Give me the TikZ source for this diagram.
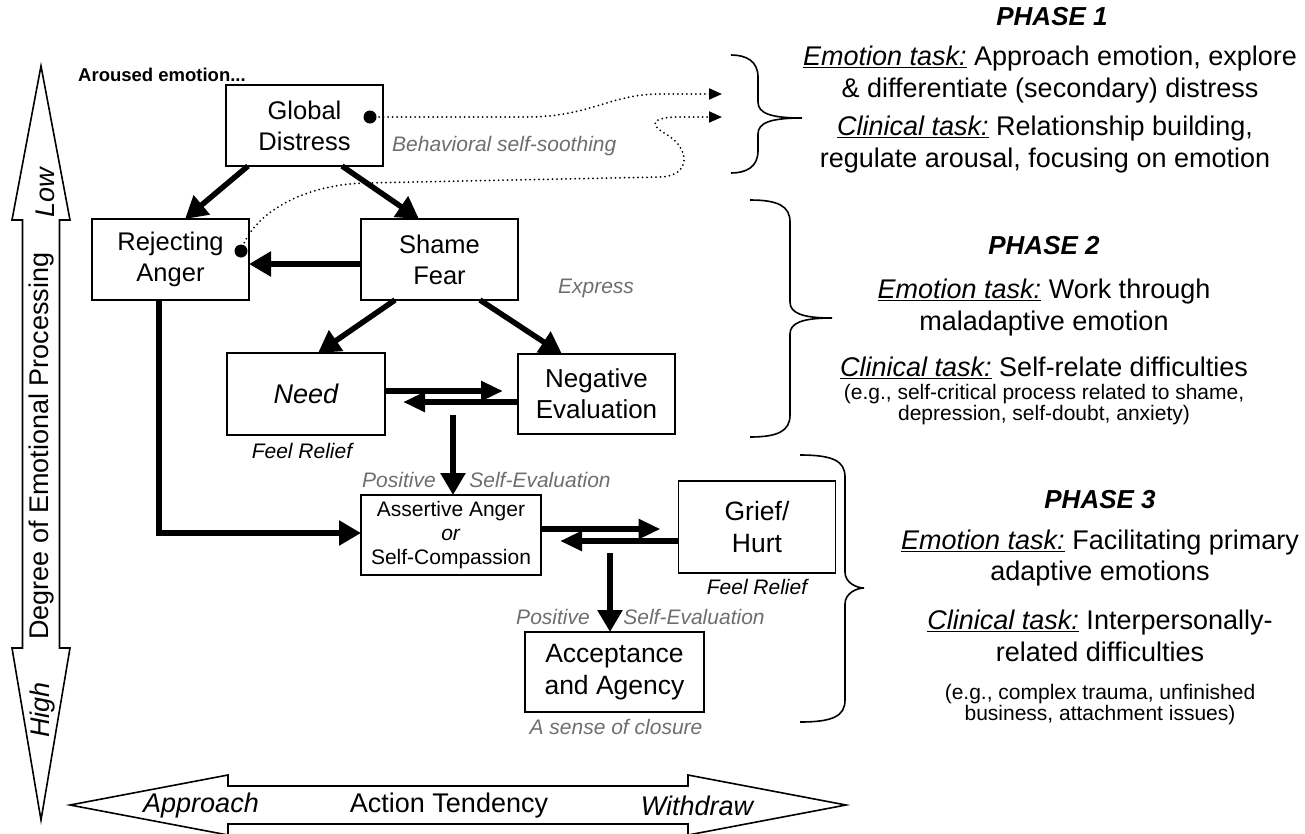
\documentclass[tikz,border=0pt]{standalone}
\usepackage{fontspec}
\setmainfont{Liberation Sans}
\usepackage{tikz}
\usetikzlibrary{arrows.meta, positioning, calc}
\definecolor{hintgray}{HTML}{6e6e6e}
\newcommand{\tasklabel}[1]{\underline{\textit{#1 task:}}}

\begin{document}
\begin{tikzpicture}[
				x=1pt, y=-1pt,
				box/.style={
						draw,
						line width=1.6pt,
						inner sep=0pt,
						outer sep=0pt,
						align=center,
						minimum width=157pt,
						minimum height=81pt,
						font=\fontsize{25.5}{31}\selectfont,
					},
				bigarrow/.style={
						line width=5.5pt, -{Triangle[length=22pt, width=24pt]},
					},
				pairarrow/.style={
						line width=5.5pt, -{Triangle[length=22pt, width=19pt]},
					},
				dotarrow/.style={
						line width=2pt, line cap=round, dash pattern=on 0pt off 4.5pt,
						-{Triangle[length=13pt, width=11pt]},
					},
				axisarrow/.style={
						draw, fill=white, line width=1.6pt, line join=miter,
					},
				axislabel/.style={inner sep=0pt, font=\fontsize{27}{30}\selectfont},
				hint/.style={inner sep=0pt, text=hintgray, font=\fontsize{21}{25}\selectfont\itshape},
				relief/.style={inner sep=0pt, font=\fontsize{21}{25}\selectfont\itshape},
				bracket/.style={line width=1.6pt},
				phase/.style={inner sep=0pt, font=\fontsize{26}{30}\selectfont\bfseries\itshape},
				task/.style={inner sep=0pt, align=center, font=\fontsize{27}{31.5}\selectfont},
				example/.style={inner sep=0pt, align=center, font=\fontsize{21}{19.5}\selectfont},
			]
			\useasboundingbox (0,0) rectangle (1305,833);

			% Achse links
			\draw[axisarrow] (41,66) -- (70,220) -- (59.5,220) -- (59.5,648) -- (70,648) -- (41,820)
			-- (12,648) -- (22.5,648) -- (22.5,220) -- (12,220) -- cycle;
			\node[axislabel, rotate=90] (degree) at (42,446) {Degree of Emotional Processing};
			\node[axislabel, rotate=90, font=\fontsize{27}{30}\selectfont\itshape] (low) at (45,193) {Low};
			\node[axislabel, rotate=90, font=\fontsize{27}{30}\selectfont\itshape] (high) at (43,710) {High};

			% Achse unten
			\draw[axisarrow] (70,805) -- (228,775) -- (228,786) -- (688,786) -- (688,775) -- (846,805)
			-- (688,835) -- (688,824) -- (228,824) -- (228,835) -- cycle;
			\node[axislabel, font=\fontsize{27}{30}\selectfont\itshape] (approach) at (201,806) {Approach};
			\node[axislabel] (tendency) at (449,806) {Action Tendency};
			\node[axislabel, font=\fontsize{27}{30}\selectfont\itshape] (withdraw) at (697,806) {Withdraw};

			\node[font=\fontsize{18.5}{22}\selectfont\bfseries] (aroused) at (162,75) {Aroused emotion...};

			% Emotionen
			\node[box] (gd) at (304.5,125.5) {Global\\Distress};
			\node[box] (ra) at (170.5,259.5) {Rejecting\\Anger};
			\node[box] (sf) at (439.5,259.5) {Shame\\Fear};
			\node[box, minimum width=158pt, minimum height=82pt, font=\fontsize{27}{31}\selectfont\itshape] (nd) at (306,394) {Need};
			\node[box, minimum height=80pt, font=\fontsize{26}{31}\selectfont] (ne) at (596.5,394) {Negative\\Evaluation};
			\node[box, minimum width=180pt, minimum height=80pt, font=\fontsize{21}{24}\selectfont] (aa) at (451,535) {Assertive Anger\\\textit{or}\\Self-Compassion};
			\node[box, minimum width=157pt, minimum height=92pt, font=\fontsize{26.5}{32}\selectfont] (gh) at (757,527) {Grief/\\Hurt};
			\node[box, minimum width=179pt, minimum height=80pt, font=\fontsize{26.5}{32}\selectfont] (ac) at (614.5,672) {Acceptance\\and Agency};

			% Pfeile
			\draw[bigarrow] ($(gd.south west)+(22,0)$) -- ($(ra.north west)+(93,0)$);
			\draw[bigarrow] ($(gd.south west)+(116,0)$) -- ($(sf.north west)+(58,0)$);
			\draw[bigarrow] ($(sf.west)+(0,4.5)$) -- ($(ra.east)+(0,4.5)$);
			\draw[bigarrow] ($(sf.south west)+(34,0)$) -- ($(nd.north west)+(91,0)$);
			\draw[bigarrow] ($(sf.south west)+(119,0)$) -- ($(ne.north west)+(44,0)$);
			\draw[pairarrow] ($(nd.east)+(0,-3)$) -- ($(ne.west)+(-15,-3)$);
			\draw[pairarrow] ($(ne.west)+(0,8)$) -- ($(nd.east)+(18,8)$);
			\coordinate (split1) at ($(aa.north west)+(92,-80)$);
			\draw[bigarrow] (split1) -- ($(aa.north west)+(92,0)$);
			\draw[bigarrow] ($(ra.south west)+(67,0)$) |- ($(aa.west)+(0,-2)$);
			\draw[pairarrow] ($(aa.east)+(0,-6)$) -- ($(gh.west)+(-18,2)$);
			\draw[pairarrow] ($(gh.west)+(0,14)$) -- ($(aa.east)+(19,6)$);
			\coordinate (split2) at ($(ac.north west)+(85,-79)$);
			\draw[bigarrow] (split2) -- ($(ac.north west)+(85,0)$);

			% Selbstberuhigung (gepunktet)
			\coordinate (gddot) at ($(gd.east)+(-13,-8.5)$);
			\coordinate (radot) at ($(ra.east)+(-8,-8.5)$);
			\coordinate (soothe1) at (722,94);
			\coordinate (soothe2) at (722,117);
			\draw[dotarrow] (gddot) -- (526,117) .. controls (590,117) and (610,94) .. (660,94) -- (soothe1);
			\draw[dotarrow] (radot) .. controls (252,215) and (300,185) .. (365,183) -- (660,177)
			.. controls (692,176) and (690,148) .. (666,134) .. controls (648,124) and (652,117) .. (680,117) -- (soothe2);
			\fill (gddot) circle (6.5);
			\fill (radot) circle (6.5);

			% Beschriftungen
			\node[hint, anchor=west] (soothing) at (392,146) {Behavioral self-soothing};
			\node[hint] (express) at (596,288) {Express};
			\node[relief] (relief1) at (302,451) {Feel Relief};
			\node[hint] (pos1) at (399,480) {Positive};
			\node[hint] (selfeval1) at (540,480) {Self-Evaluation};
			\node[relief, below=6pt of gh] (relief2) {Feel Relief};
			\node[hint] (pos2) at (553,617) {Positive};
			\node[hint] (selfeval2) at (694,617) {Self-Evaluation};
			\node[hint] (closure) at (616,727) {A sense of closure};

			% Klammern
			\foreach \xe/\xm/\xt/\yt/\yc/\yb in {731/758/802/55/118/173, 750/790/832/200/318/437, 800/845/864/455/588/722} {
					\draw[bracket] (\xe,\yt) .. controls (\xm-12,\yt) and (\xm,\yt+6) .. (\xm,\yt+22)
					-- (\xm,\yc-16) .. controls (\xm,\yc-5) and (\xm+12,\yc) .. (\xt,\yc)
					.. controls (\xm+12,\yc) and (\xm,\yc+5) .. (\xm,\yc+16)
					-- (\xm,\yb-22) .. controls (\xm,\yb-6) and (\xm-12,\yb) .. (\xe,\yb);
				}

			% Phasen
			\node[phase] (p1) at (1052,17) {PHASE 1};
			\node[task] (p1emo) at (1050,74.5) {\tasklabel{Emotion} Approach emotion, explore\\\& differentiate (secondary) distress};
			\node[task] (p1clin) at (1045,144.5) {\tasklabel{Clinical} Relationship building,\\regulate arousal, focusing on emotion};

			\node[phase] (p2) at (1044,246) {PHASE 2};
			\node[task] (p2emo) at (1044,307.5) {\tasklabel{Emotion} Work through\\maladaptive emotion};
			\node[task] (p2clin) at (1044,368) {\tasklabel{Clinical} Self-relate difficulties};
			\node[example] (p2eg) at (1044,404.5) {(e.g., self-critical process related to shame,\\depression, self-doubt, anxiety)};

			\node[phase] (p3) at (1100,500) {PHASE 3};
			\node[task] (p3emo) at (1100,558) {\tasklabel{Emotion} Facilitating primary\\adaptive emotions};
			\node[task] (p3clin) at (1100,636) {\tasklabel{Clinical} Interpersonally-\\related difficulties};
			\node[example] (p3eg) at (1100,704.5) {(e.g., complex trauma, unfinished\\business, attachment issues)};

		\end{tikzpicture}
\end{document}
